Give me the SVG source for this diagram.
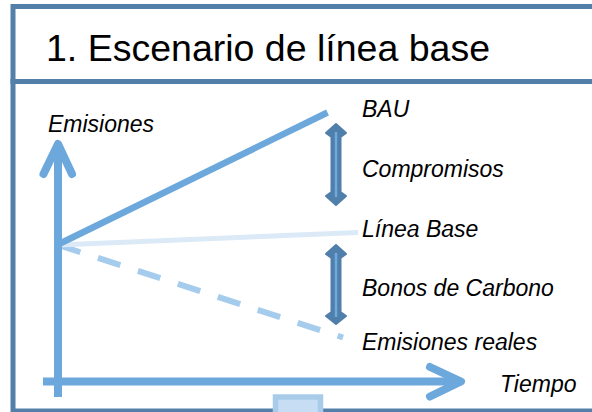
<svg xmlns="http://www.w3.org/2000/svg" width="592" height="412" viewBox="0 0 592 412">
  <style>
    .frame { fill: #ffffff; stroke: #5280A9; stroke-width: 5; }
    .axis { fill: none; stroke: #6CA8DC; stroke-width: 8; }
    .head { fill: none; stroke: #6CA8DC; stroke-width: 8; stroke-linecap: round; stroke-linejoin: round; }
    .lbl { font-family: "Liberation Sans", Arial, sans-serif; font-style: italic; font-size: 23px; fill: #000000; }
    .title { font-family: "Liberation Sans", Arial, sans-serif; font-size: 37.5px; fill: #000000; }
    .dbl { fill: #4F7FAA; stroke: #4F7FAA; stroke-width: 2; stroke-linejoin: round; }
    .dblin { stroke: #6FAADD; stroke-width: 2.5; }
  </style>
  <rect width="592" height="412" fill="#ffffff"/>
  <g id="frame">
    <rect class="frame" x="13" y="81.5" width="600" height="329.5"/>
    <rect class="frame" x="13" y="6.5" width="600" height="75"/>
    <rect x="275.5" y="397" width="45" height="20" fill="#C6DDF3" stroke="#A9CBEA" stroke-width="5.5"/>
  </g>
  <g id="title">
    <text class="title" x="46" y="61">1. Escenario de línea base</text>
  </g>
  <g id="connectors">
    <line x1="58" y1="245" x2="343" y2="337.5" stroke="#A5CCEC" stroke-width="6" stroke-dasharray="23.5 18.5"/>
    <line x1="58" y1="245" x2="358" y2="232.5" stroke="#DCEAF7" stroke-width="5"/>
    <line x1="59" y1="244" x2="327.5" y2="112.5" stroke="#6CA8DC" stroke-width="6.5"/>
    <line class="axis" x1="58" y1="397" x2="58" y2="145"/>
    <polyline class="head" points="43.5,174 58,144 72,174"/>
    <line class="axis" x1="43" y1="381.5" x2="460" y2="381.5"/>
    <polyline class="head" points="430,367 461,381.5 430,396.5"/>
  </g>
  <g id="arrow-compromisos">
    <polygon class="dbl" points="336,124 346,133 340.5,137 340.5,192 346,196 336,205 326,196 331.5,192 331.5,137 326,133"/>
    <line class="dblin" x1="336" y1="132" x2="336" y2="197"/>
  </g>
  <g id="arrow-bonos">
    <polygon class="dbl" points="336,245 346,254 340.5,258 340.5,312 346,316 336,324 326,316 331.5,312 331.5,258 326,254"/>
    <line class="dblin" x1="336" y1="253" x2="336" y2="317"/>
  </g>
  <g id="labels">
    <text class="lbl" x="48" y="132">Emisiones</text>
    <text class="lbl" x="362" y="117">BAU</text>
    <text class="lbl" x="362" y="177">Compromisos</text>
    <text class="lbl" x="362" y="237">Línea Base</text>
    <text class="lbl" x="362" y="296">Bonos de Carbono</text>
    <text class="lbl" x="362" y="350">Emisiones reales</text>
    <text class="lbl" x="500" y="392">Tiempo</text>
  </g>
</svg>
